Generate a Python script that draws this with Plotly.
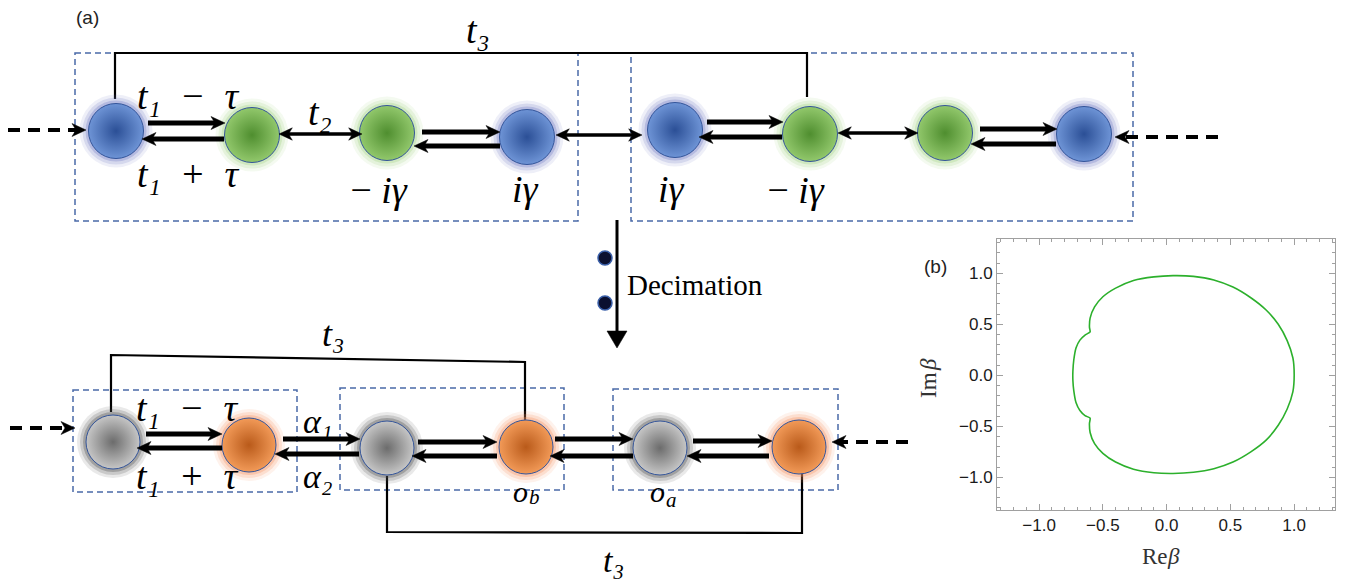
import plotly.graph_objects as go

W, H = 1357, 585

# ---------------- panel (a): lattice schematic (pixel layout) ----------------
top_x = [116, 252, 387, 527, 675, 810, 945, 1084]
top_y = [131, 135, 133, 137, 130, 134, 133, 134]
top_kind = ["blue", "green", "green", "blue", "blue", "green", "green", "blue"]

bot_x = [113, 249, 387, 526, 660, 799]
bot_y = [442, 445, 448, 447, 448, 447]
bot_kind = ["gray", "orange", "gray", "orange", "gray", "orange"]

# one-way hoppings: (x_from, x_to, y)
hop_arrows = [
    (148, 225, 123), (224, 142, 139),
    (422, 500, 132), (500, 414, 146),
    (707, 783, 122), (782, 699, 137),
    (980, 1057, 129), (1056, 971, 144),
    (146, 222, 434), (222, 137, 448),
    (283, 360, 439), (359, 275, 454),
    (418, 497, 442), (497, 412, 456),
    (555, 633, 439), (633, 550, 456),
    (693, 772, 441), (769, 687, 456),
]
# reciprocal couplings: (x_left, x_right, y)
bi_arrows = [(279, 362, 134), (556, 642, 135), (838, 918, 133)]
# semi-infinite leads: (x_from, x_to, y)
lead_arrows = [(8, 86, 130), (1218, 1115, 137), (10, 75, 428), (908, 832, 442)]
# decimation arrow: (x, y_from, y_to)
dec_arrow = (617, 220, 348)
dec_dots_x = [605, 605]
dec_dots_y = [258, 303]

# long-range t3 links
t3_links = [
    ([115, 115, 807, 807], [99, 53, 53, 97]),
    ([111, 111, 525, 525], [412, 355, 362, 420]),
    ([387, 387, 802, 802], [476, 532, 533, 473]),
]
# unit-cell boxes: (x0, y0, x1, y1)
cells = [(75, 53, 578, 221), (631, 53, 1133, 221),
         (73, 390, 297, 492), (340, 388, 564, 490), (613, 389, 838, 490)]

EN, THIN, MINUS = "\u2002", "\u2009", "\u2212"
# symbol labels, set in italic: (text, x, y, size)
math_labels = [
    ("t₃", 478, 30, 38),
    ("t₁" + EN + MINUS + EN + "τ", 188, 96, 38),
    ("t₁" + EN + "+" + EN + "τ", 188, 174, 38),
    ("t₂", 320, 112, 38),
    (MINUS + THIN + "iγ", 378, 190, 38),
    ("iγ", 525, 189, 38),
    ("iγ", 671, 189, 38),
    (MINUS + THIN + "iγ", 795, 190, 38),
    ("t₃", 333, 334, 36),
    ("t₁" + EN + MINUS + EN + "τ", 187, 408, 38),
    ("t₁" + EN + "+" + EN + "τ", 187, 476, 38),
    ("α₁", 318, 421, 34),
    ("α₂", 318, 476, 34),
    ("o", 520, 491, 30),
    ("b", 534, 497, 21),
    ("o", 657, 491, 30),
    ("a", 671, 500, 21),
    ("t₃", 613, 560, 34),
]

sphere_style = {
    "blue":   dict(center="#6e94d6", edge="#2b4f96", glow="rgba(115,125,195,{a})"),
    "green":  dict(center="#92c86c", edge="#4f8e2f", glow="rgba(165,212,135,{a})"),
    "gray":   dict(center="#c6c6c6", edge="#6c6c6c", glow="rgba(75,75,75,{a})"),
    "orange": dict(center="#f29a58", edge="#b95a1a", glow="rgba(245,145,95,{a})"),
}

# ---------------- panel (b): generalized Brillouin zone ----------------
beta_re = [1.000, 0.990, 0.945, 0.875, 0.780, 0.660, 0.520, 0.370, 0.210, 0.050,
           -0.100, -0.260, -0.400, -0.500, -0.565, -0.600, -0.605, -0.600,
           -0.640, -0.680, -0.710, -0.728, -0.735, -0.735, -0.728, -0.710,
           -0.680, -0.640, -0.600, -0.605, -0.600, -0.565, -0.500, -0.400,
           -0.260, -0.100, 0.050, 0.210, 0.370, 0.520, 0.660, 0.780, 0.875,
           0.945, 0.990, 1.000]
beta_im = [0.000, 0.170, 0.340, 0.500, 0.640, 0.760, 0.865, 0.935, 0.970, 0.977,
           0.965, 0.930, 0.855, 0.770, 0.670, 0.560, 0.470, 0.425,
           0.395, 0.345, 0.270, 0.150, 0.040, -0.050, -0.150, -0.270,
           -0.345, -0.395, -0.420, -0.470, -0.560, -0.670, -0.765, -0.850,
           -0.920, -0.955, -0.962, -0.950, -0.915, -0.850, -0.750, -0.635, -0.490,
           -0.330, -0.160, 0.000]
tick_vals = [-1.0, -0.5, 0.0, 0.5, 1.0]

fig = go.Figure()
ink = "#000000"
cell_color = "#4a6aa8"

# stealth arrowhead geometry (pixels): length, half-width, notch depth
HEAD_L, HEAD_W, HEAD_N = 14, 6.5, 4


def add_lines(xs, ys, width, dash=None):
    fig.add_trace(go.Scatter(x=xs, y=ys, mode="lines", hoverinfo="skip", showlegend=False,
                             line=dict(color=ink, width=width, dash=dash)))


head_x, head_y = [], []


def stealth(x, y, direction, scale=1.0):
    """Queue a filled stealth head with its tip at (x, y) pointing along +/-x."""
    L, hw, n = HEAD_L * scale, HEAD_W * scale, HEAD_N * scale
    s = direction
    head_x.extend([x, x - s * L, x - s * (L - n), x - s * L, x, None])
    head_y.extend([y, y - hw, y, y + hw, y, None])


# t3 links (drawn first so spheres sit on top of their ends)
for xs, ys in t3_links:
    add_lines(xs, ys, 2.2)

# unit cells
for x0, y0, x1, y1 in cells:
    fig.add_shape(type="rect", x0=x0, y0=y0, x1=x1, y1=y1, xref="x", yref="y",
                  line=dict(color=cell_color, width=1.5, dash="6px,4px"), layer="below")

# lead shafts (dashed)
lx, ly = [], []
for xf, xt, y in lead_arrows:
    sgn = 1 if xt > xf else -1
    lx += [xf, xt - sgn * 10, None]
    ly += [y, y, None]
    stealth(xt, y, sgn)
add_lines(lx, ly, 4, dash="12px,8px")


# spheres with halo
def add_spheres(xs, ys, kinds, d):
    for kind, st in sphere_style.items():
        px = [x for x, k in zip(xs, kinds) if k == kind]
        py = [y for y, k in zip(ys, kinds) if k == kind]
        if not px:
            continue
        for extra, a in ((18, 0.12), (12, 0.2), (6, 0.32)):
            fig.add_trace(go.Scatter(
                x=px, y=py, mode="markers", hoverinfo="skip", showlegend=False,
                marker=dict(size=d + extra, color=st["glow"].format(a=a), line=dict(width=0))))
        fig.add_trace(go.Scatter(
            x=px, y=py, mode="markers", hoverinfo="skip", showlegend=False,
            marker=dict(size=d, color=st["center"], line=dict(color="#34559a", width=1),
                        gradient=dict(type="radial", color=st["edge"]))))


add_spheres(top_x, top_y, top_kind, 55)
add_spheres(bot_x, bot_y, bot_kind, 54)

# hopping arrows
hx, hy = [], []
for xf, xt, y in hop_arrows:
    sgn = 1 if xt > xf else -1
    hx += [xf, xt - sgn * 8, None]
    hy += [y, y, None]
    stealth(xt, y, sgn)
add_lines(hx, hy, 5)

bx, by = [], []
for xl, xr, y in bi_arrows:
    bx += [xl + 8, xr - 8, None]
    by += [y, y, None]
    stealth(xr, y, 1, 0.95)
    stealth(xl, y, -1, 0.95)
add_lines(bx, by, 3.5)

fig.add_trace(go.Scatter(x=head_x, y=head_y, mode="lines", fill="toself", fillcolor=ink,
                         line=dict(color=ink, width=0.5), hoverinfo="skip", showlegend=False))

# decimation step
dx, dy0, dy1 = dec_arrow
add_lines([dx, dx], [dy0, dy1 - 10], 3)
fig.add_trace(go.Scatter(x=[dx, dx - 10, dx + 10, dx], y=[dy1, dy1 - 17, dy1 - 17, dy1],
                         mode="lines", fill="toself", fillcolor=ink, line=dict(color=ink, width=0.5),
                         hoverinfo="skip", showlegend=False))
fig.add_trace(go.Scatter(x=dec_dots_x, y=dec_dots_y, mode="markers", hoverinfo="skip",
                         showlegend=False,
                         marker=dict(size=14, color="#0b1030", line=dict(color="#3a5fa8", width=1.5))))

annotations = [dict(x=625, y=285, xref="x", yref="y", text="Decimation", showarrow=False,
                    xanchor="left", yanchor="middle",
                    font=dict(family="Liberation Serif", size=29, color=ink))]

for txt, x, y, s in math_labels:
    annotations.append(dict(x=x, y=y, xref="x", yref="y", text=txt, showarrow=False,
                            xanchor="center", yanchor="middle",
                            font=dict(family="Liberation Serif", size=s, color=ink,
                                      style="italic")))

annotations.append(dict(x=87, y=17, xref="x", yref="y", text="(a)", showarrow=False,
                        font=dict(family="Liberation Sans", size=19, color="#222")))
annotations.append(dict(x=935, y=266, xref="x", yref="y", text="(b)", showarrow=False,
                        font=dict(family="Liberation Sans", size=19, color="#222")))

# axis titles of panel (b): upright "Re"/"Im" followed by an italic beta
title_font = dict(family="Liberation Serif", size=23, color="#333")
annotations += [
    dict(x=1170, y=556, xref="x", yref="y", text="Re", showarrow=False, xanchor="right",
         font=title_font),
    dict(x=1165, y=556, xref="x", yref="y", text="β", showarrow=False, xanchor="left",
         font=dict(title_font, style="italic")),
    dict(x=928, y=385, xref="x", yref="y", text="Im", showarrow=False, textangle=-90,
         font=title_font),
    dict(x=928, y=365, xref="x", yref="y", text="β", showarrow=False, textangle=-90,
         font=dict(title_font, style="italic")),
]

# GBZ curve
fig.add_trace(go.Scatter(x=beta_re, y=beta_im, xaxis="x2", yaxis="y2", mode="lines",
                         line=dict(color="#2cb02c", width=1.6, shape="spline", smoothing=0.6),
                         hoverinfo="skip", showlegend=False))

frame = "#a0a0a0"
axis_b = dict(showline=True, mirror="allticks", linecolor=frame, linewidth=1,
              ticks="inside", ticklen=6, tickcolor=frame, tickwidth=1,
              tickvals=tick_vals, tickformat=".1f", showgrid=False, zeroline=False,
              tickfont=dict(family="Liberation Sans", size=17, color="#1a1a1a"),
              minor=dict(dtick=0.1, ticks="inside", ticklen=3, tickcolor=frame, showgrid=False),
              fixedrange=True)

fig.update_layout(
    width=W, height=H, margin=dict(l=0, r=0, t=0, b=0),
    paper_bgcolor="white", plot_bgcolor="white",
    xaxis=dict(domain=[0, 1], range=[0, W], visible=False, fixedrange=True),
    yaxis=dict(domain=[0, 1], range=[H, 0], visible=False, fixedrange=True),
    xaxis2=dict(domain=[997 / W, 1335 / W], anchor="y2", range=[-1.33, 1.32], **axis_b),
    yaxis2=dict(domain=[(H - 510) / H, (H - 239) / H], anchor="x2", range=[-1.32, 1.336],
                **axis_b),
    annotations=annotations,
    showlegend=False,
)

fig.write_html("out.html")
